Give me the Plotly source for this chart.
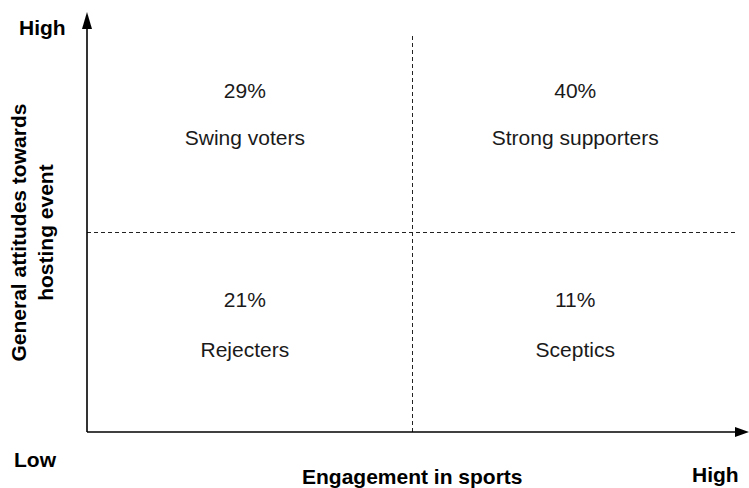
import plotly.graph_objects as go

# audience segments by engagement in sports (x) and attitude to hosting (y)
segments = ["Swing voters", "Strong supporters", "Rejecters", "Sceptics"]
shares = [29, 40, 21, 11]
engagement = ["Low", "High", "Low", "High"]
attitude = ["High", "High", "Low", "Low"]

x_title = "Engagement in sports"
y_title = "General attitudes towards<br>hosting event"

FONT = "Liberation Sans, Arial, Helvetica, sans-serif"
INK = "#1a1a1a"

# quadrant centres on a 0..2 grid, dividers at 1
centre = {"Low": 0.5, "High": 1.5}
xs = [centre[e] - 0.015 if e == "Low" else centre[e] for e in engagement]
pct_y = [1.70 if a == "High" else 0.652 for a in attitude]
name_y = [1.466 if a == "High" else 0.401 for a in attitude]

fig = go.Figure()
fig.add_trace(go.Scatter(
    x=xs, y=pct_y, mode="text",
    text=[f"{s}%" for s in shares],
    textfont=dict(family=FONT, size=21, color=INK),
    hoverinfo="skip", showlegend=False,
))
fig.add_trace(go.Scatter(
    x=xs, y=name_y, mode="text",
    text=segments,
    textfont=dict(family=FONT, size=21, color=INK),
    hoverinfo="skip", showlegend=False,
))

# quadrant dividers
fig.add_shape(type="line", x0=1, x1=1, y0=0, y1=2,
              line=dict(color="#222", width=1, dash="4px,3px"))
fig.add_shape(type="line", x0=0, x1=2, y0=1, y1=1,
              line=dict(color="#222", width=1, dash="4px,3px"))

# axes with arrow heads
x_tip = 1.0169
y_tip = 1.0526
fig.add_shape(type="line", xref="paper", yref="paper", x0=0, x1=x_tip - 0.015, y0=0, y1=0,
              line=dict(color="black", width=1.6))
fig.add_shape(type="line", xref="paper", yref="paper", x0=0, x1=0, y0=0, y1=y_tip - 0.03,
              line=dict(color="black", width=1.6))
fig.add_shape(type="path", xref="paper", yref="paper", xsizemode="pixel", ysizemode="pixel",
              xanchor=x_tip, yanchor=0, path="M0,0 L-14,5 L-14,-5 Z",
              fillcolor="black", line=dict(width=0))
fig.add_shape(type="path", xref="paper", yref="paper", xsizemode="pixel", ysizemode="pixel",
              xanchor=0, yanchor=y_tip, path="M0,0 L-5,-17 L5,-17 Z",
              fillcolor="black", line=dict(width=0))

bold = dict(family=FONT, size=21, color="black")
fig.add_annotation(xref="paper", yref="paper", x=-0.0684, y=1.0150, text="<b>High</b>",
                   showarrow=False, font=bold, xanchor="center", yanchor="middle")
fig.add_annotation(xref="paper", yref="paper", x=-0.0784, y=-0.0700, text="<b>Low</b>",
                   showarrow=False, font=bold, xanchor="center", yanchor="middle")
fig.add_annotation(xref="paper", yref="paper", x=0.9662, y=-0.1070, text="<b>High</b>",
                   showarrow=False, font=bold, xanchor="center", yanchor="middle")
fig.add_annotation(xref="paper", yref="paper", x=0.5, y=-0.1110, text=f"<b>{x_title}</b>",
                   showarrow=False, font=bold, xanchor="center", yanchor="middle")
fig.add_annotation(xref="paper", yref="paper", x=-0.0860, y=0.5, text=f"<b>{y_title}</b>",
                   showarrow=False, font=bold, textangle=-90,
                   xanchor="center", yanchor="middle")

fig.update_layout(
    width=749, height=488,
    margin=dict(l=87, r=11, t=33, b=56),
    plot_bgcolor="white", paper_bgcolor="white",
    xaxis=dict(range=[0, 2], visible=False, fixedrange=True),
    yaxis=dict(range=[0, 2], visible=False, fixedrange=True),
    showlegend=False,
)

fig.write_html("out.html", config={"displayModeBar": False},
               post_script="document.body.style.margin='0';")
